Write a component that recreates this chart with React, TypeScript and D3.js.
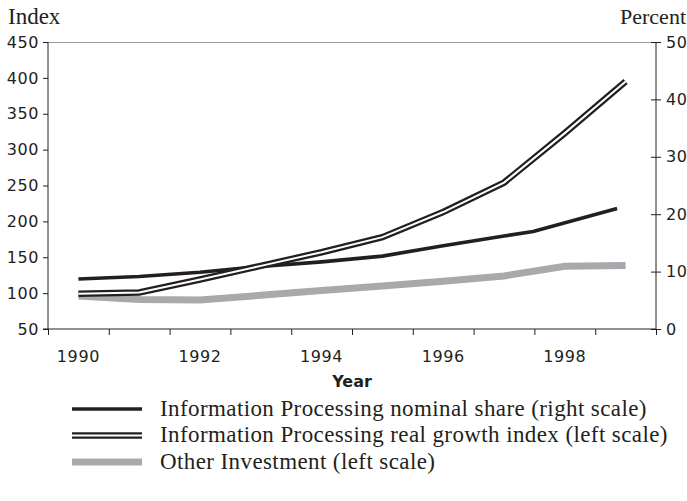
import React, { useRef, useEffect } from 'react';
import * as d3 from 'd3';

// values
const years = [1990, 1991, 1992, 1993, 1994, 1995, 1996, 1997, 1998, 1999];
const yearLabels = [1990, 1992, 1994, 1996, 1998];
const realGrowthIndex = [99, 101, 119, 138, 157, 178, 213, 254, 323, 395];
const otherInvestment = [96, 91, 90.5, 97, 103.5, 110, 116.5, 124, 137.5, 138.5];
const nominalShareYears = [1990, 1991, 1992, 1993, 1994, 1995, 1996, 1997, 1997.48, 1998.86];
const nominalShare = [8.7, 9.15, 9.9, 10.9, 11.7, 12.7, 14.5, 16.2, 17.0, 21.0];
const leftTicks = [50, 100, 150, 200, 250, 300, 350, 400, 450];
const rightTicks = [0, 10, 20, 30, 40, 50];
const legendItems = [
  { key: 'nominal', label: 'Information Processing nominal share (right scale)' },
  { key: 'real', label: 'Information Processing real growth index (left scale)' },
  { key: 'other', label: 'Other Investment (left scale)' }
];

const W = 687;
const H = 501;
const BLACK = '#231f20';
const GRAY = '#a7a9ac';
const SANS = '"DejaVu Sans", sans-serif';
const SERIF = '"Liberation Serif", serif';

const App = () => {
  const svgRef = useRef<SVGSVGElement | null>(null);

  useEffect(() => {
    if (!svgRef.current) return;
    const svg = d3.select(svgRef.current);
    svg.selectAll('*').remove();

    const margin = { top: 42, right: 31, bottom: 172, left: 48 };
    const x0 = margin.left;
    const x1 = W - margin.right;
    const y0 = H - margin.bottom;
    const y1 = margin.top;

    const x = d3.scaleLinear().domain([1989.5, 1999.5]).range([x0, x1]);
    const yLeft = d3.scaleLinear().domain([50, 450]).range([y0, y1]);
    const yRight = d3.scaleLinear().domain([0, 50]).range([y0, y1]);
    const boundaries = d3.range(1989.5, 2000, 1);

    // top frame line
    svg.append('line')
      .attr('x1', x0).attr('x2', x1)
      .attr('y1', y1 + 0.5).attr('y2', y1 + 0.5)
      .attr('stroke', '#9a9a9a');

    // bottom axis ticks at year boundaries
    svg.append('g')
      .attr('transform', `translate(0,${y0})`)
      .call(d3.axisBottom(x).tickValues(boundaries).tickSize(6).tickFormat(() => '').tickSizeOuter(0))
      .call(g => g.select('.domain').remove())
      .call(g => g.selectAll('.tick line').attr('stroke', BLACK));

    svg.append('line')
      .attr('x1', x0 - 5).attr('x2', x1)
      .attr('y1', y0).attr('y2', y0)
      .attr('stroke', BLACK);

    svg.append('g')
      .selectAll('text')
      .data(yearLabels)
      .join('text')
      .attr('x', d => x(d))
      .attr('y', y0 + 33)
      .attr('text-anchor', 'middle')
      .attr('font-family', SANS)
      .attr('font-size', 16)
      .attr('letter-spacing', 0.6)
      .attr('fill', BLACK)
      .text(d => d);

    svg.append('text')
      .attr('x', (x0 + x1) / 2)
      .attr('y', y0 + 58)
      .attr('text-anchor', 'middle')
      .attr('font-family', SANS)
      .attr('font-weight', 'bold')
      .attr('font-size', 16)
      .attr('fill', BLACK)
      .text('Year');

    // left axis
    svg.append('g')
      .attr('transform', `translate(${x0},0)`)
      .call(d3.axisLeft(yLeft).tickValues(leftTicks).tickSize(5).tickPadding(4).tickSizeOuter(0))
      .call(g => g.select('.domain').remove())
      .call(g => g.selectAll('.tick line').attr('stroke', BLACK))
      .call(g => g.selectAll('.tick text')
        .attr('font-family', SANS)
        .attr('font-size', 16)
        .attr('letter-spacing', 0.6)
        .attr('fill', BLACK));

    svg.append('line')
      .attr('x1', x0).attr('x2', x0)
      .attr('y1', y1).attr('y2', y0)
      .attr('stroke', BLACK);

    // right axis
    svg.append('g')
      .attr('transform', `translate(${x1},0)`)
      .call(d3.axisRight(yRight).tickValues(rightTicks).tickSize(5).tickPadding(5).tickSizeOuter(0))
      .call(g => g.select('.domain').remove())
      .call(g => g.selectAll('.tick line').attr('x1', -5).attr('stroke', BLACK))
      .call(g => g.selectAll('.tick text')
        .attr('font-family', SANS)
        .attr('font-size', 16)
        .attr('letter-spacing', 0.6)
        .attr('fill', BLACK));

    svg.append('line')
      .attr('x1', x1).attr('x2', x1)
      .attr('y1', y1).attr('y2', y0)
      .attr('stroke', BLACK);

    // axis titles
    svg.append('text')
      .attr('x', 8).attr('y', 24)
      .attr('font-family', SERIF)
      .attr('font-size', 23)
      .attr('fill', BLACK)
      .text('Index');

    svg.append('text')
      .attr('x', W - 1).attr('y', 24)
      .attr('text-anchor', 'end')
      .attr('font-family', SERIF)
      .attr('font-size', 22)
      .attr('fill', BLACK)
      .text('Percent');

    // series
    const leftLine = d3.line<number>()
      .x((_, i) => x(years[i]))
      .y(d => yLeft(d));

    const nominalLine = d3.line<number>()
      .x((_, i) => x(nominalShareYears[i]))
      .y(d => yRight(d));

    svg.append('path')
      .attr('d', leftLine(otherInvestment))
      .attr('fill', 'none')
      .attr('stroke', GRAY)
      .attr('stroke-width', 7);

    svg.append('path')
      .attr('d', nominalLine(nominalShare))
      .attr('fill', 'none')
      .attr('stroke', BLACK)
      .attr('stroke-width', 3.6);

    svg.append('path')
      .attr('d', leftLine(realGrowthIndex))
      .attr('fill', 'none')
      .attr('stroke', BLACK)
      .attr('stroke-width', 6.5);

    svg.append('path')
      .attr('d', leftLine(realGrowthIndex))
      .attr('fill', 'none')
      .attr('stroke', '#ffffff')
      .attr('stroke-width', 2);

    // legend
    const rowY = d3.scalePoint<string>()
      .domain(legendItems.map(d => d.key))
      .range([409, 462]);

    const rows = svg.append('g')
      .selectAll('g')
      .data(legendItems)
      .join('g')
      .attr('transform', d => `translate(0,${rowY(d.key)})`);

    rows.filter(d => d.key === 'nominal').append('line')
      .attr('x1', 72).attr('x2', 142)
      .attr('stroke', BLACK).attr('stroke-width', 3.6);

    rows.filter(d => d.key === 'real').append('line')
      .attr('x1', 72).attr('x2', 142)
      .attr('stroke', BLACK).attr('stroke-width', 6.5);
    rows.filter(d => d.key === 'real').append('line')
      .attr('x1', 72).attr('x2', 142)
      .attr('stroke', '#ffffff').attr('stroke-width', 2);

    rows.filter(d => d.key === 'other').append('line')
      .attr('x1', 72).attr('x2', 142)
      .attr('stroke', GRAY).attr('stroke-width', 7);

    rows.append('text')
      .attr('x', 160)
      .attr('dy', '0.3em')
      .attr('font-family', SERIF)
      .attr('font-size', 23)
      .attr('letter-spacing', 0.4)
      .attr('fill', BLACK)
      .text(d => d.label);
  }, []);

  return (
    <svg
      ref={svgRef}
      width={W}
      height={H}
      style={{ position: 'absolute', left: 0, top: 0, background: '#fff' }}
    />
  );
};

export default App;
